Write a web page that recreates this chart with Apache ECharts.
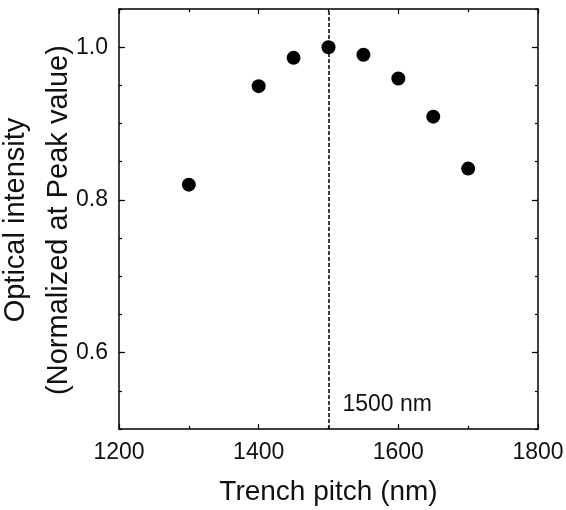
<!DOCTYPE html>
<html>
<head>
<meta charset="utf-8">
<script src="https://cdn.jsdelivr.net/npm/echarts@6/dist/echarts.min.js"></script>
<style>html,body{margin:0;padding:0;background:#fff;}#c{width:566px;height:510px;}</style>
</head>
<body>
<div id="c"></div>
<script>
const pitch = [1300, 1400, 1450, 1500, 1550, 1600, 1650, 1700];
const intensity = [0.820, 0.949, 0.986, 1.000, 0.990, 0.959, 0.909, 0.841];
const xTicks = [1200, 1400, 1600, 1800];
const yTicks = [0.6, 0.8, 1.0];
const peakPitch = 1500;
const peakLabel = '1500 nm';
const xTitle = 'Trench pitch (nm)';
const yTitle = 'Optical intensity\n(Normalized at Peak value)';

const FONT = '"Liberation Sans", Arial, sans-serif';
const chart = echarts.init(document.getElementById('c'), null, {renderer: 'canvas'});

const baseX = {
  type: 'value', min: 1200, max: 1800, interval: 200,
  axisLine: {show: true, onZero: false, lineStyle: {color: '#000', width: 1.5}},
  splitLine: {show: false},
  axisTick: {inside: true, length: 5, lineStyle: {color: '#000', width: 1.2}},
  minorTick: {show: true, splitNumber: 2, length: 3, lineStyle: {color: '#000', width: 1.2}},
};
const yMinor = {
  type: 'value', min: 0.5, max: 1.05, interval: 0.05,
  axisLine: {show: true, onZero: false, lineStyle: {color: '#000', width: 1.5}},
  splitLine: {show: false},
  axisTick: {inside: true, length: 3, lineStyle: {color: '#000', width: 1.2}},
};

const option = {
  animation: false,
  backgroundColor: '#fff',
  grid: {left: 119, top: 9, width: 419, height: 420, containLabel: false, outerBoundsMode: 'none'},
  graphic: [{
    type: 'text',
    x: 37, y: 220,
    rotation: Math.PI / 2,
    style: {
      text: yTitle,
      fill: '#111',
      font: '29px ' + FONT,
      lineHeight: 43,
      align: 'center',
      verticalAlign: 'middle'
    }
  }],
  xAxis: [
    Object.assign({}, baseX, {
      position: 'bottom',
      axisLabel: {show: true, color: '#111', fontSize: 23, fontFamily: FONT, margin: 12,
        customValues: xTicks, formatter: v => String(v)},
      name: xTitle, nameLocation: 'middle', nameGap: 49,
      nameTextStyle: {color: '#111', fontSize: 28, fontFamily: FONT}
    }),
    Object.assign({}, baseX, {position: 'top', axisLabel: {show: false}})
  ],
  yAxis: [
    Object.assign({}, yMinor, {
      position: 'left',
      axisLabel: {show: true, color: '#111', fontSize: 23, fontFamily: FONT, margin: 11,
        customValues: yTicks, formatter: v => v.toFixed(1)}
    }),
    Object.assign({}, yMinor, {position: 'right', axisLabel: {show: false}}),
    {
      type: 'value', min: 0.5, max: 1.05, position: 'left',
      axisLine: {show: false}, splitLine: {show: false}, axisLabel: {show: false},
      axisTick: {show: true, inside: true, length: 6, customValues: yTicks, lineStyle: {color: '#000', width: 1.2}}
    },
    {
      type: 'value', min: 0.5, max: 1.05, position: 'right',
      axisLine: {show: false}, splitLine: {show: false}, axisLabel: {show: false},
      axisTick: {show: true, inside: true, length: 6, customValues: yTicks, lineStyle: {color: '#000', width: 1.2}}
    }
  ],
  series: [
    {
      type: 'scatter',
      xAxisIndex: 0, yAxisIndex: 0,
      data: pitch.map((p, i) => [p, intensity[i]]),
      symbol: 'circle', symbolSize: 14,
      itemStyle: {color: '#000', opacity: 1},
      z: 5,
      markLine: {
        silent: true, symbol: ['none', 'none'],
        lineStyle: {color: '#000', type: [4, 2], width: 1.5},
        label: {show: false},
        data: [{xAxis: peakPitch}]
      },
      markPoint: {
        symbol: 'circle', symbolSize: 0,
        label: {show: true, position: 'right', distance: 14, formatter: peakLabel,
          color: '#111', fontSize: 23, fontFamily: FONT},
        data: [{coord: [peakPitch, 0.532]}]
      }
    }
  ]
};
chart.setOption(option);
</script>
</body>
</html>
